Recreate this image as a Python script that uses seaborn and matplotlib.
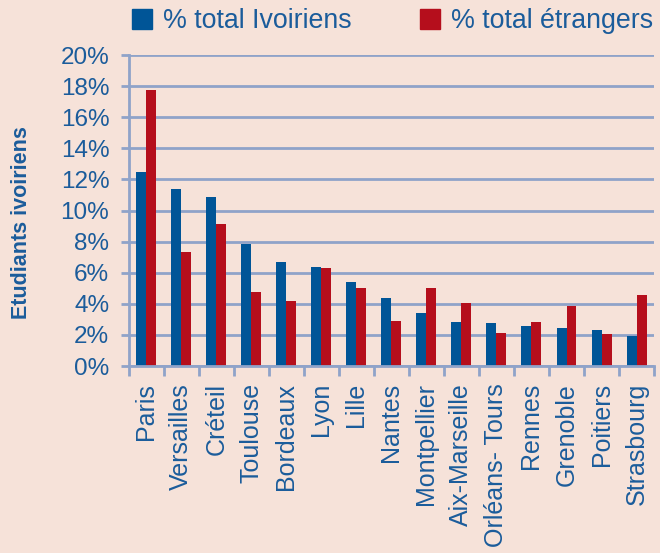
import matplotlib
matplotlib.use('Agg')
import matplotlib.pyplot as plt
import numpy as np
import pandas as pd
import seaborn as sns
from matplotlib.ticker import FixedLocator, PercentFormatter
from matplotlib.lines import Line2D

# data
villes = ['Paris', 'Versailles', 'Créteil', 'Toulouse', 'Bordeaux', 'Lyon', 'Lille',
          'Nantes', 'Montpellier', 'Aix-Marseille', 'Orléans- Tours', 'Rennes',
          'Grenoble', 'Poitiers', 'Strasbourg']
ivoiriens = [12.5, 11.4, 10.9, 7.85, 6.7, 6.4, 5.4, 4.4, 3.4, 2.85, 2.75, 2.6, 2.45, 2.3, 1.95]
etrangers = [17.75, 7.35, 9.15, 4.75, 4.2, 6.3, 5.0, 2.9, 5.0, 4.05, 2.1, 2.85, 3.85, 2.05, 4.6]
series = ['% total Ivoiriens', '% total étrangers']
yticks = [0, 2, 4, 6, 8, 10, 12, 14, 16, 18, 20]

bg = '#F6E2D9'
blue = '#005597'
red = '#B50E1C'
txt = '#1B5C9B'
grid = '#8FA3C9'

sns.set_theme(style='white')
plt.rcParams['font.family'] = ['Liberation Sans', 'DejaVu Sans']

df = pd.DataFrame({
    'ville': villes * 2,
    'valeur': ivoiriens + etrangers,
    'serie': [series[0]] * len(villes) + [series[1]] * len(villes),
})

fig = plt.figure(figsize=(6.6, 5.53), dpi=100, facecolor=bg)
ax = fig.add_axes([0.195, 0.338, 0.796, 0.5625])
ax.set_facecolor(bg)

sns.barplot(data=df, x='ville', y='valeur', hue='serie', order=villes,
            hue_order=series, palette=[blue, red], width=0.57, ax=ax,
            saturation=1, edgecolor='none', linewidth=0, legend=True)
ax.get_legend().remove()

ax.set_xlim(-0.5, len(villes) - 0.5)
ax.set_ylim(0, 20)
ax.set_yticks(yticks)
ax.yaxis.set_major_formatter(PercentFormatter(decimals=0))
ax.grid(axis='y', color=grid, linewidth=2)
ax.set_axisbelow(True)

for s in ['top', 'right']:
    ax.spines[s].set_visible(False)
for s in ['left', 'bottom']:
    ax.spines[s].set_color(grid)
    ax.spines[s].set_linewidth(2)

ax.tick_params(axis='y', length=6, width=2, color=grid, labelsize=17.5,
               labelcolor=txt, pad=8, left=True)
ax.tick_params(axis='x', which='major', length=0, labelsize=18, labelcolor=txt,
               pad=12, labelrotation=90)
ax.xaxis.set_minor_locator(FixedLocator(np.arange(-0.5, len(villes), 1)))
ax.tick_params(axis='x', which='minor', length=7, width=2, color=grid, bottom=True)
for lab in ax.get_xticklabels():
    lab.set_verticalalignment('top')
    lab.set_horizontalalignment('center')

ax.set_xlabel('')
ax.set_ylabel('')
fig.text(0.033, 0.598, 'Etudiants ivoiriens', rotation=90, ha='center', va='center',
         color=txt, fontsize=15.5, fontweight='bold')

handles = [Line2D([], [], marker='s', linestyle='none', markersize=14,
                  markerfacecolor=c, markeredgecolor=c) for c in [blue, red]]
leg = fig.legend(handles, series, loc='center', bbox_to_anchor=(0.592, 0.962),
                 ncol=2, frameon=False, fontsize=19.3, handletextpad=0.3,
                 columnspacing=2.4, handlelength=1.0)
for t in leg.get_texts():
    t.set_color(txt)

fig.savefig('out.png', dpi=100, facecolor=bg)
